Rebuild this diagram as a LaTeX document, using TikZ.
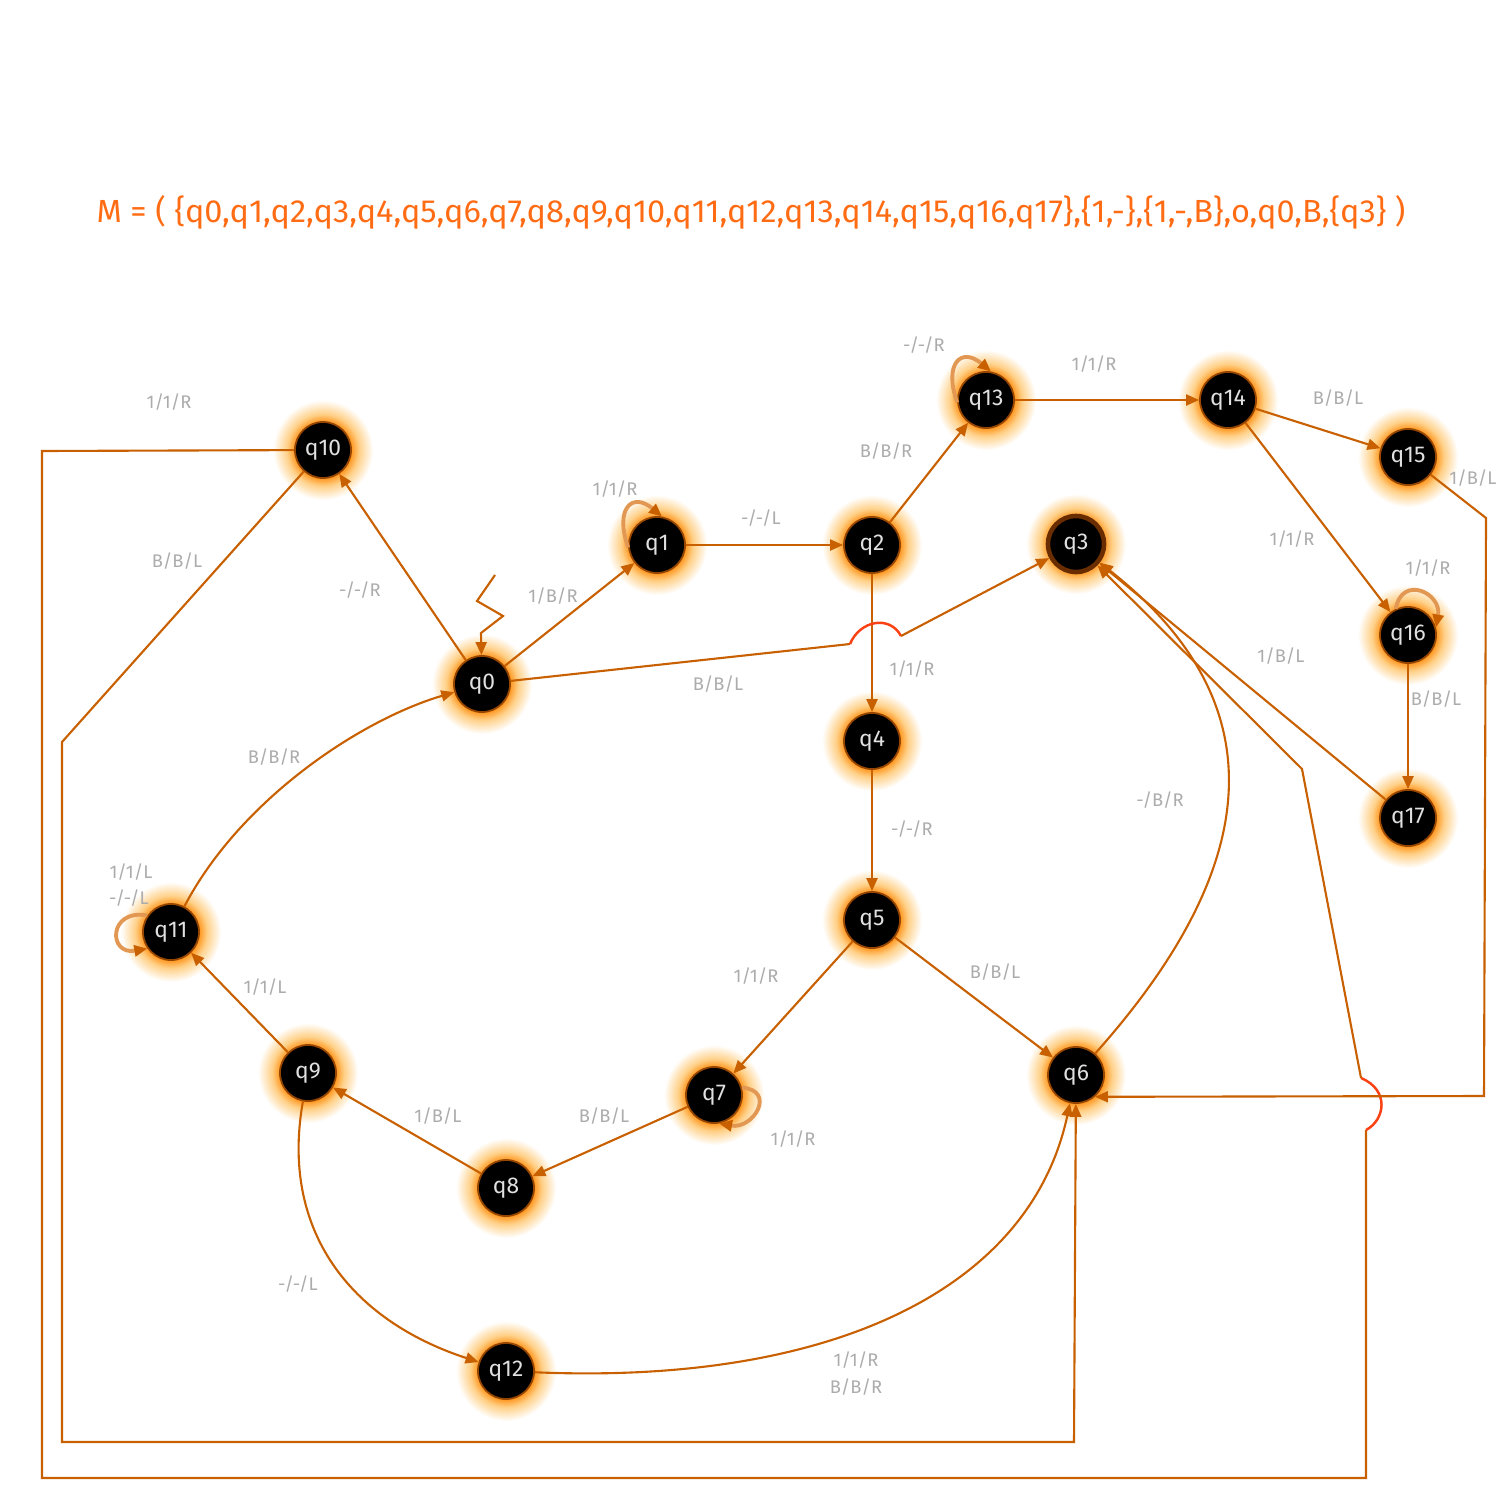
\documentclass[tikz,border=0pt]{standalone}
\usepackage{graphicx}
\usepackage{fontspec}
\setmainfont{Fira Sans}
\usetikzlibrary{arrows.meta}
\definecolor{edgec}{RGB}{200,96,0}
\definecolor{jumpc}{RGB}{250,65,20}
\definecolor{titlec}{RGB}{255,108,20}
\definecolor{glowin}{RGB}{255,150,30}
\definecolor{glowmid}{RGB}{255,208,135}
\definecolor{rimc}{RGB}{150,70,0}
\definecolor{acceptc}{RGB}{105,45,0}
\definecolor{loopc}{RGB}{226,152,82}
\pgfdeclareradialshading{nodeglow}{\pgfpoint{0bp}{0bp}}{color(0bp)=(glowin); color(14bp)=(glowin); color(18bp)=(glowmid); color(25bp)=(white); color(50bp)=(white)}
\tikzset{
  glow/.style={circle, minimum size=1cm, inner sep=0pt, draw=none, shading=nodeglow},
  qstate/.style={circle, minimum size=0.56cm, inner sep=0pt, fill=black, draw=rimc, line width=0.5pt, text=white!88!black, font=\fontsize{6.5}{7}\selectfont},
  accept/.style={draw=acceptc, line width=1.3pt},
  trans/.style={draw=edgec, line width=0.6pt, -{Triangle[length=1.3mm,width=1.1mm]}},
  jump/.style={draw=jumpc, line width=0.7pt},
  selfloop/.style={draw=loopc, line width=1.1pt, -{Triangle[length=1.3mm,width=1.1mm,color=edgec]}},
  lbl/.style={text=gray!65, font=\fontsize{5.2}{6}\selectfont, inner sep=0pt},
}
\begin{document}
\begin{tikzpicture}[x=0.01cm,y=-0.01cm]
  \newcommand{\stn}[3]{
    \node[glow] at (#2) {};
    \node[qstate] (#1) at (#2) {#3}
  }
  \useasboundingbox (0,0) rectangle (1500,1500);

  \node[text=titlec, anchor=base] (title) at (751,222) {\resizebox{13.08cm}{0.27cm}{M = ( \{q0,q1,q2,q3,q4,q5,q6,q7,q8,q9,q10,q11,q12,q13,q14,q15,q16,q17\},\{1,-\},\{1,-,B\},o,q0,B,\{q3\} )}};

  % states
  \stn{q0}{482,684}{q0};
  \stn{q1}{657,545}{q1};
  \stn{q2}{872,545}{q2};
  \node[glow] at (1076,544) {};
  \node[qstate,accept] (q3) at (1076,544) {q3};
  \stn{q4}{872,741}{q4};
  \stn{q5}{872,920}{q5};
  \stn{q6}{1076,1075}{q6};
  \stn{q7}{714,1095}{q7};
  \stn{q8}{506,1188}{q8};
  \stn{q9}{308,1073}{q9};
  \stn{q10}{323,450}{q10};
  \stn{q11}{171,932}{q11};
  \stn{q12}{506,1371}{q12};
  \stn{q13}{986,400}{q13};
  \stn{q14}{1228,400}{q14};
  \stn{q15}{1408,457}{q15};
  \stn{q16}{1408,635}{q16};
  \stn{q17}{1408,818}{q17};

  % start
  \coordinate (s0) at (495,575);
  \draw[trans] (s0) -- (477,601) -- (503,616) -- (481,633) -- (q0);

  % transitions
  \draw[trans] (q0) -- (q10);
  \draw[trans] (q0) -- (q1);
  \draw[trans] (q1) -- (q2);
  \draw[trans] (q2) -- (q13);
  \draw[trans] (q13) -- (q14);
  \draw[trans] (q14) -- (q15);
  \draw[trans] (q14) -- (q16);
  \draw[trans] (q16) -- (q17);
  \draw[trans] (q17) -- (q3);
  \draw[trans] (q2) -- (q4);
  \draw[trans] (q4) -- (q5);
  \draw[trans] (q5) -- (q7);
  \draw[trans] (q5) -- (q6);
  \draw[trans] (q7) -- (q8);
  \draw[trans] (q8) -- (q9);
  \draw[trans] (q9) -- (q11);

  \coordinate (j1) at (850,644);
  \coordinate (j2) at (901,636);
  \draw[trans,-] (q0) -- (j1);
  \draw[jump] (j1) .. controls (860,620) and (890,615) .. (j2);
  \draw[trans] (j2) -- (q3);

  \draw[trans] (q6) .. controls (1250,880) and (1290,712) .. (q3);
  \draw[trans] (q11) .. controls (240,800) and (360,720) .. (q0);
  \draw[trans] (q9) .. controls (280,1230) and (350,1320) .. (q12);
  \draw[trans] (q12) .. controls (830,1385) and (1030,1290) .. (q6);

  \draw[trans] (q10) -- (62,742) -- (62,1442) -- (1074,1442) -- (q6);
  \coordinate (k1) at (1366,1130);
  \coordinate (k2) at (1361,1078);
  \draw[trans,-] (q10) -- (42,451) -- (42,1478) -- (1366,1478) -- (k1);
  \draw[jump] (k1) .. controls (1385,1120) and (1390,1090) .. (k2);
  \draw[trans] (k2) -- (1302,769) -- (q3);
  \draw[trans] (q15) -- (1486,518) -- (1484,1096) -- (q6.-49);

  % loops
  \draw[selfloop] (q1.185) to[out=110,in=140,distance=0.4cm] (q1.80);
  \draw[selfloop] (q13.185) to[out=110,in=140,distance=0.4cm] (q13.80);
  \draw[selfloop] (q16.115) to[out=80,in=80,distance=0.35cm] (q16.15);
  \draw[selfloop] (q7.15) to[out=-5,in=-10,distance=0.35cm] (q7.-80);
  \draw[selfloop] (q11.145) to[out=170,in=190,distance=0.4cm] (q11.215);

  % labels
  \node[lbl] (l1) at (360,590) {-/-/R};
  \node[lbl] (l2) at (553,596) {1/B/R};
  \node[lbl] (l3) at (615,489) {1/1/R};
  \node[lbl] (l4) at (761,518) {-/-/L};
  \node[lbl] (l5) at (886,451) {B/B/R};
  \node[lbl] (l6) at (924,345) {-/-/R};
  \node[lbl] (l7) at (1094,364) {1/1/R};
  \node[lbl] (l8) at (1338,398) {B/B/L};
  \node[lbl] (l9) at (1473,478) {1/B/L};
  \node[lbl] (l10) at (1292,539) {1/1/R};
  \node[lbl] (l11) at (1428,568) {1/1/R};
  \node[lbl] (l12) at (1436,699) {B/B/L};
  \node[lbl] (l13) at (1281,656) {1/B/L};
  \node[lbl] (l14) at (912,669) {1/1/R};
  \node[lbl] (l15) at (718,684) {B/B/L};
  \node[lbl] (l16) at (912,829) {-/-/R};
  \node[lbl] (l17) at (1160,800) {-/B/R};
  \node[lbl] (l18) at (756,976) {1/1/R};
  \node[lbl] (l19) at (995,972) {B/B/L};
  \node[lbl] (l20) at (793,1139) {1/1/R};
  \node[lbl] (l21) at (604,1116) {B/B/L};
  \node[lbl] (l22) at (438,1116) {1/B/L};
  \node[lbl] (l23) at (265,987) {1/1/L};
  \node[lbl] (l24) at (131,872) {1/1/L};
  \node[lbl] (l25) at (129,898) {-/-/L};
  \node[lbl] (l26) at (274,757) {B/B/R};
  \node[lbl] (l27) at (298,1284) {-/-/L};
  \node[lbl] (l28) at (856,1360) {1/1/R};
  \node[lbl] (l29) at (856,1387) {B/B/R};
  \node[lbl] (l30) at (177,561) {B/B/L};
  \node[lbl] (l31) at (169,402) {1/1/R};
\end{tikzpicture}
\end{document}
